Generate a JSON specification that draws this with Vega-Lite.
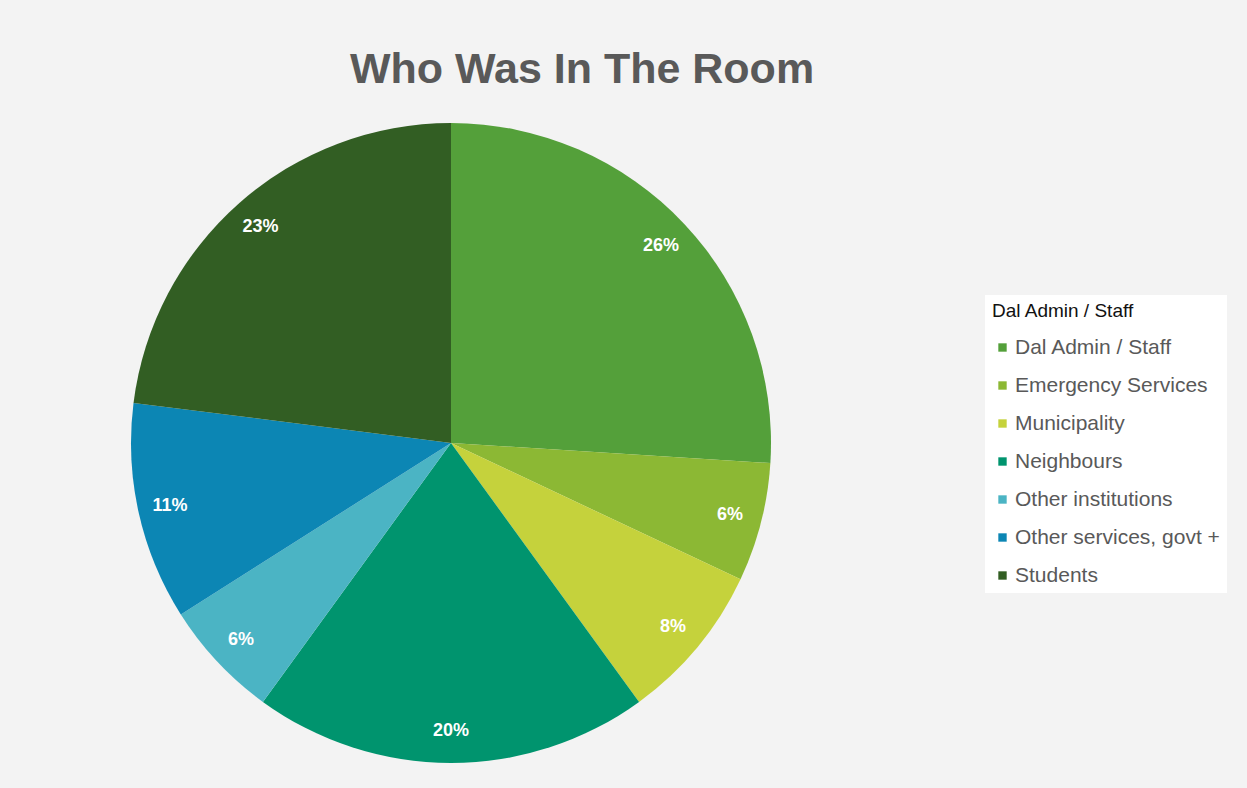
{
  "$schema": "https://vega.github.io/schema/vega-lite/v6.json",
  "width": 640,
  "height": 640,
  "autosize": {"type": "none"},
  "padding": {"left": 131, "top": 123, "right": 476, "bottom": 25},
  "background": "#f3f3f3",
  "title": {
    "text": "Who Was In The Room",
    "fontSize": 43,
    "font": "Liberation Sans",
    "fontWeight": "bold",
    "color": "#595959",
    "dx": 131,
    "offset": 31
  },
  "data": {
    "values": [
      {"group": "Dal Admin / Staff", "pct": 26, "label": "26%", "order": 1},
      {"group": "Emergency Services", "pct": 6, "label": "6%", "order": 2},
      {"group": "Municipality", "pct": 8, "label": "8%", "order": 3},
      {"group": "Neighbours", "pct": 20, "label": "20%", "order": 4},
      {"group": "Other institutions", "pct": 6, "label": "6%", "order": 5},
      {"group": "Other services, govt +", "pct": 11, "label": "11%", "order": 6},
      {"group": "Students", "pct": 23, "label": "23%", "order": 7}
    ]
  },
  "encoding": {
    "theta": {"field": "pct", "type": "quantitative", "stack": true},
    "order": {"field": "order", "type": "quantitative"}
  },
  "layer": [
    {
      "mark": {"type": "arc", "outerRadius": 320},
      "encoding": {
        "color": {
          "field": "group",
          "type": "nominal",
          "sort": null,
          "scale": {
            "domain": ["Dal Admin / Staff", "Emergency Services", "Municipality", "Neighbours", "Other institutions", "Other services, govt +", "Students"],
            "range": ["#54a03a", "#8cb834", "#c5d23c", "#00946e", "#4bb4c4", "#0c86b4", "#325e23"]
          },
          "legend": {
            "title": "Dal Admin / Staff",
            "orient": "none",
            "legendX": 854,
            "legendY": 172,
            "titleFont": "Liberation Sans",
            "titleFontSize": 19,
            "titleFontWeight": "normal",
            "titleColor": "#111111",
            "titlePadding": 16,
            "labelFont": "Liberation Sans",
            "labelFontSize": 21,
            "labelColor": "#595959",
            "symbolType": "square",
            "symbolSize": 70,
            "symbolStrokeWidth": 0,
            "rowPadding": 16,
            "labelOffset": 2,
            "fillColor": "#ffffff",
            "padding": 7,
            "labelLimit": 300
          }
        }
      }
    },
    {
      "mark": {"type": "text", "radius": 288, "fontSize": 18, "fontWeight": "bold", "font": "Liberation Sans", "color": "white", "baseline": "middle"},
      "encoding": {
        "text": {"field": "label", "type": "nominal"}
      }
    }
  ],
  "config": {"view": {"stroke": null}}
}
